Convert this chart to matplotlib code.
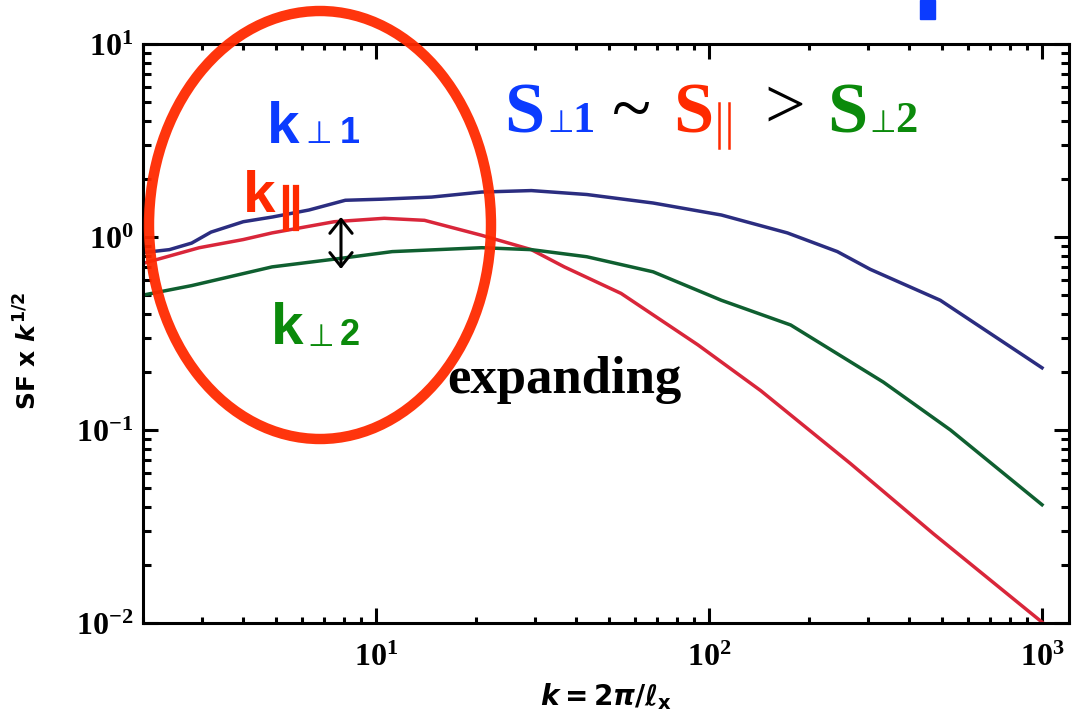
import numpy as np
import matplotlib.pyplot as plt
from matplotlib.patches import Ellipse, Rectangle
from matplotlib.ticker import FuncFormatter, NullFormatter, LogLocator

plt.rcParams['mathtext.fontset'] = 'custom'
plt.rcParams['mathtext.rm'] = 'Liberation Serif:bold'
plt.rcParams['mathtext.bf'] = 'Liberation Serif:bold'
plt.rcParams['mathtext.it'] = 'DejaVu Sans:italic:bold'
plt.rcParams['mathtext.sf'] = 'DejaVu Sans:bold'
plt.rcParams['xtick.labelsize'] = 23
plt.rcParams['ytick.labelsize'] = 23

#
# structure function curves
#
k_perp1 = [2.0, 2.4, 2.8, 3.2, 4.0, 4.9, 6.3, 8.1, 10.4, 14.7, 20.8, 29.3, 43, 68,
           109, 172, 243, 305, 495, 1000]
sf_perp1 = [0.83, 0.86, 0.93, 1.06, 1.20, 1.27, 1.38, 1.55, 1.57, 1.61, 1.71, 1.74,
            1.66, 1.50, 1.30, 1.05, 0.84, 0.68, 0.47, 0.21]

k_par = [2.0, 2.95, 4.0, 4.88, 7.5, 10.6, 14, 20.8, 29.3, 36.8, 54.5, 92.7, 143,
         266, 472, 1000]
sf_par = [0.73, 0.88, 0.97, 1.05, 1.20, 1.25, 1.22, 1.02, 0.86, 0.70, 0.51, 0.276,
          0.16, 0.067, 0.029, 0.0101]

k_perp2 = [2.0, 2.8, 4.88, 8.07, 11.2, 20.8, 29.3, 43, 68, 109, 176, 334, 531, 1000]
sf_perp2 = [0.50, 0.56, 0.70, 0.78, 0.84, 0.88, 0.86, 0.79, 0.66, 0.47, 0.35, 0.177,
            0.100, 0.041]

W, H = 1074, 725
fig = plt.figure(figsize=(W / 100, H / 100), dpi=100)
ax = fig.add_axes([143 / W, 1 - 623 / H, (1069 - 143) / W, (623 - 44) / H])

ax.plot(k_perp1, sf_perp1, color='#2b2d80', lw=2.5)
ax.plot(k_par, sf_par, color='#d9263a', lw=2.5)
ax.plot(k_perp2, sf_perp2, color='#0f5f30', lw=2.5)

ax.set_xscale('log')
ax.set_yscale('log')
ax.set_xlim(2.0, 1205)
ax.set_ylim(0.01, 10)


def log_label(v, pos):
    e = int(round(np.log10(v)))
    return r'$\mathrm{10^{%d}}$' % e


for axis in (ax.xaxis, ax.yaxis):
    axis.set_major_locator(LogLocator(base=10))
    axis.set_minor_locator(LogLocator(base=10, subs=np.arange(2, 10)))
    axis.set_major_formatter(FuncFormatter(log_label))
    axis.set_minor_formatter(NullFormatter())

ax.tick_params(which='both', direction='in', top=True, right=True, width=2.2)
ax.tick_params(which='major', length=11)
ax.tick_params(axis='y', which='minor', length=6)
ax.tick_params(axis='x', which='minor', length=4)
ax.tick_params(axis='x', which='major', pad=14)
ax.tick_params(axis='y', which='major', pad=7)
for sp in ax.spines.values():
    sp.set_linewidth(2.2)

ax.set_xlabel(r'$k\mathsf{=2}\pi\mathsf{/}\ell_{\mathsf{x}}$', fontsize=20)
ax.xaxis.set_label_coords(0.5, -0.1)
ax.set_ylabel(r'SF x $k^{\mathsf{1/2}}$', fontsize=18, family='DejaVu Sans',
              weight='bold')
ax.yaxis.set_label_coords(-0.109, 0.47)

# double arrow between parallel and perp2 curves
ax.annotate('', xy=(7.86, 1.27), xytext=(7.86, 0.683),
            arrowprops=dict(arrowstyle='<->,head_length=0.5,head_width=0.4',
                            color='black', lw=2.2, mutation_scale=20,
                            shrinkA=0, shrinkB=0))

#
# overlay in pixel units for the hand-made annotations
#
ov = fig.add_axes([0, 0, 1, 1])
ov.set_xlim(0, W)
ov.set_ylim(H, 0)
ov.axis('off')

blue = '#0b3bff'
red = '#ff2a00'
green = '#0b8a0b'
serif = ['Liberation Serif', 'DejaVu Serif']
sans = ['Liberation Sans', 'DejaVu Sans']

circle = Ellipse((320, 225), 342, 428, fill=False, edgecolor=red, lw=7.5, alpha=0.95)
ov.add_patch(circle)

ov.add_patch(Rectangle((920, 0), 15, 19, color=blue))

# S_perp1 ~ S_par > S_perp2
ov.text(504, 132, 'S', color=blue, fontsize=52, family=serif, weight='bold', va='baseline')
ov.text(547, 132, '⊥', color=blue, fontsize=22, family=['DejaVu Sans'], va='baseline')
ov.text(572, 132, '1', color=blue, fontsize=32, family=serif, weight='bold', va='baseline')
ov.text(612, 132, '~', color='black', fontsize=52, family=serif, va='baseline')
ov.text(673, 132, 'S', color=red, fontsize=52, family=serif, weight='bold', va='baseline')
for bx in (719, 729):
    ov.plot([bx, bx], [103, 148], color=red, lw=1.8)
ov.text(764, 128, '>', color='black', fontsize=52, family=serif, va='baseline')
ov.text(827, 132, 'S', color=green, fontsize=52, family=serif, weight='bold', va='baseline')
ov.text(869, 132, '⊥', color=green, fontsize=22, family=['DejaVu Sans'], va='baseline')
ov.text(895, 132, '2', color=green, fontsize=32, family=serif, weight='bold', va='baseline')

# k labels inside the circle
ov.text(267, 143, 'k', color=blue, fontsize=42, family=sans, weight='bold', va='baseline')
ov.text(305, 143, '⊥', color=blue, fontsize=22, family=['DejaVu Sans'], va='baseline')
ov.text(340, 143, '1', color=blue, fontsize=26, family=sans, weight='bold', va='baseline')

ov.text(243, 212, 'k', color=red, fontsize=42, family=sans, weight='bold', va='baseline')
for bx in (286, 296):
    ov.plot([bx, bx], [188, 228], color=red, lw=4.5)

ov.text(271, 344, 'k', color=green, fontsize=42, family=sans, weight='bold', va='baseline')
ov.text(307, 346, '⊥', color=green, fontsize=22, family=['DejaVu Sans'], va='baseline')
ov.text(340, 345, '2', color=green, fontsize=26, family=sans, weight='bold', va='baseline')

ov.text(447, 393, 'expanding', color='black', fontsize=38, family=serif, weight='bold',
        va='baseline')

fig.savefig('out.png', dpi=100)
